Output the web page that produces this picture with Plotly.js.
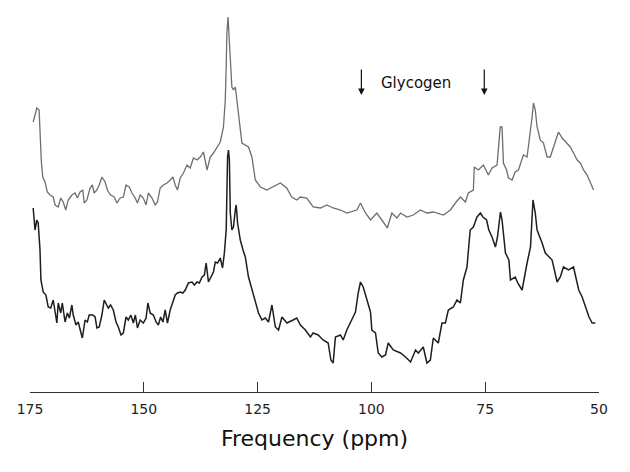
<!DOCTYPE html>
<html>
<head>
<meta charset="utf-8">
<script src="https://cdn.plot.ly/plotly-3.0.1.min.js"></script>
<style>html,body{margin:0;padding:0;background:#fff;}#chart{width:630px;height:472px;}</style>
</head>
<body>
<div id="chart"></div>
<script>
// Upper (grey) spectrum: chemical shift (ppm) and intensity (arbitrary units)
const grayPpm = [174.3,173.5,173.0,172.8,172.5,172.2,171.7,171.2,170.6,169.9,169.5,168.8,168.25,167.7,167.15,166.6,165.8,165.1,164.6,164.0,163.4,163.1,162.5,161.8,161.3,160.9,160.3,159.8,159.2,158.5,158.0,157.3,156.5,155.9,155.2,154.5,153.9,153.2,152.6,151.9,151.4,150.8,150.1,149.5,149.0,148.2,147.5,147.0,146.4,145.7,144.9,144.2,143.6,143.1,142.6,142.0,141.3,140.5,139.8,139.1,138.3,137.6,136.9,136.1,135.4,134.7,134.0,133.2,132.5,132.1,131.9,131.75,131.5,131.3,131.0,130.65,130.3,129.9,129.55,128.8,128.45,127.0,126.25,125.5,124.4,123.0,121.6,120.0,118.6,117.5,116.4,115.6,114.2,112.8,111.2,109.8,108.4,106.8,105.4,103.2,102.4,101.3,100.2,98.8,97.4,96.5,95.5,94.4,93.6,92.2,90.8,89.25,87.8,86.4,84.2,82.65,81.55,80.45,79.35,78.7,77.6,77.4,76.5,75.4,74.3,73.5,72.4,72.1,71.7,71.3,71.0,70.3,69.9,69.1,68.4,67.7,66.6,65.8,65.3,64.7,64.4,64.0,63.6,62.9,62.2,61.4,60.7,59.6,58.9,58.1,57.0,56.3,55.6,54.8,54.1,53.4,52.6,51.9,51.2];
const grayInt = [270,284,282,252,230,215,210,200,197,195,187,185,194,190,182,192,197,199,194,200,202,189,192,204,207,199,202,207,215,210,202,197,195,189,194,195,207,205,199,194,189,197,194,187,199,194,187,190,204,207,209,212,215,207,202,214,219,227,224,234,232,235,240,222,235,239,244,250,265,292,325,359,375,359,335,305,302,305,292,265,249,245,235,212,205,202,205,209,204,195,192,195,194,185,184,187,184,182,179,182,189,179,172,179,170,164,179,174,179,175,177,182,179,180,177,182,189,195,190,199,202,225,222,227,217,224,227,242,265,265,229,222,214,212,220,222,237,235,252,275,289,282,265,252,249,235,235,249,260,254,249,245,239,232,229,222,217,210,202];

// Lower (black) spectrum
const blackPpm = [174.3,173.9,173.5,173.2,172.8,172.6,172.1,171.5,171.0,170.45,169.9,169.5,169.1,168.8,168.25,167.9,167.3,166.8,166.35,165.8,165.5,164.9,164.4,163.85,163.5,162.9,162.4,162.0,161.2,160.7,160.3,159.8,159.2,158.7,158.3,157.8,157.3,156.7,156.1,155.6,155.0,154.5,153.9,153.4,152.85,152.3,151.85,151.4,150.8,150.1,149.5,149.1,148.6,147.9,147.3,146.8,146.3,145.8,145.3,144.8,144.2,143.6,143.1,142.6,142.0,141.4,140.9,140.2,139.4,138.9,138.3,137.8,137.2,136.7,136.3,135.8,135.3,134.7,134.3,133.8,133.2,132.7,132.3,131.9,131.6,131.4,131.2,131.0,130.65,130.3,129.9,129.7,129.4,128.8,128.2,127.7,127.0,126.25,125.5,124.8,124.05,123.3,122.6,121.85,121.1,120.4,119.65,118.55,117.2,116.4,115.6,114.5,113.4,112.8,111.7,110.6,109.5,108.9,108.4,107.9,106.8,106.2,105.4,104.3,103.5,102.9,102.4,101.8,101.0,100.2,99.9,99.1,98.5,97.7,96.9,96.3,95.2,93.6,92.5,91.4,90.3,89.7,88.6,87.8,87.05,86.4,85.3,84.5,83.75,83.1,82.0,81.2,80.45,79.8,79.0,78.3,77.6,76.8,76.05,75.5,74.7,74.2,73.5,72.75,72.3,71.65,71.3,70.55,69.8,69.45,68.4,67.85,66.9,66.4,65.8,65.05,64.5,64.0,63.6,62.5,61.8,60.3,59.2,58.5,57.8,56.7,55.6,54.95,54.45,53.7,52.95,52.2,51.5,50.8];
const blackInt = [184,162,172,169,142,112,100,97,85,84,92,82,69,89,79,89,70,79,74,87,77,67,70,60,54,72,70,77,77,75,64,65,77,92,89,84,87,82,70,65,57,59,75,72,77,69,77,64,72,69,74,89,79,77,70,67,75,70,82,69,82,90,97,99,100,99,102,109,110,107,110,109,115,117,129,110,115,120,130,129,134,124,139,162,235,242,232,179,162,165,182,187,169,152,142,135,115,102,89,79,72,74,70,87,65,62,75,69,72,74,67,62,55,59,57,52,49,32,29,55,57,52,62,72,80,99,110,105,92,80,62,59,39,35,37,49,42,39,35,30,42,39,45,29,32,54,49,69,69,82,85,92,89,112,125,162,165,175,179,175,172,162,155,145,155,180,172,139,132,112,115,109,102,115,129,145,192,179,162,149,139,132,110,115,125,122,125,112,102,95,85,75,69,69];

const tickVals = [175,150,125,100,75,50];
const tickText = ['175','150','125','100','75','50'];
const xTitle = 'Frequency (ppm)';
const labelText = 'Glycogen';
const labelPos = {ppm: 90.3, intensity: 309};
const arrowPpm = [102.2, 75.2];
const arrowTipIntensity = 297;

const FONT = 'DejaVu Sans, Verdana, sans-serif';

const traces = [
  {x: grayPpm, y: grayInt, type: 'scatter', mode: 'lines',
   line: {color: '#6e6e6e', width: 1.3}, hoverinfo: 'skip'},
  {x: blackPpm, y: blackInt, type: 'scatter', mode: 'lines',
   line: {color: '#1e1e1e', width: 1.5}, hoverinfo: 'skip'}
];

const annotations = [{
  x: labelPos.ppm, y: labelPos.intensity, xref: 'x', yref: 'y',
  text: labelText, showarrow: false,
  font: {family: FONT, size: 15, color: '#111'}
}].concat(arrowPpm.map(p => ({
  x: p, y: arrowTipIntensity, xref: 'x', yref: 'y', text: '',
  showarrow: true, ax: 0, ay: -27, arrowhead: 2, arrowsize: 1.1,
  arrowwidth: 1.2, arrowcolor: '#111'
})));

const layout = {
  width: 630, height: 472,
  margin: {l: 30, r: 31, t: 0, b: 80},
  paper_bgcolor: '#fff', plot_bgcolor: '#fff',
  showlegend: false,
  xaxis: {
    range: [175, 50], tickvals: tickVals, ticktext: tickText,
    showgrid: false, zeroline: false, showline: true,
    linecolor: '#333', linewidth: 1.2,
    ticks: 'inside', ticklen: 10, tickwidth: 1.2, tickcolor: '#333',
    ticklabelstandoff: 4,
    tickfont: {family: FONT, size: 14, color: '#222'},
    title: {text: xTitle, standoff: 14,
            font: {family: FONT, size: 22, color: '#111'}}
  },
  yaxis: {range: [0, 392], visible: false, showgrid: false, zeroline: false},
  annotations: annotations
};

Plotly.newPlot('chart', traces, layout, {staticPlot: true, displayModeBar: false});
</script>
</body>
</html>
